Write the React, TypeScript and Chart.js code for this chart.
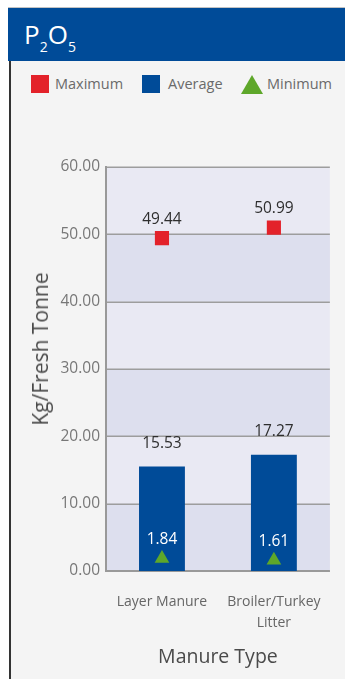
import React, { useEffect, useRef } from "react";
import { Chart, registerables } from "chart.js";

Chart.register(...registerables);

const categories: string[][] = [["Layer Manure"], ["Broiler/Turkey", "Litter"]];
const maximumValues = [49.44, 50.99];
const averageValues = [15.53, 17.27];
const minimumValues = [1.84, 1.61];
const yTickValues = [0, 10, 20, 30, 40, 50, 60];
const seriesNames = ["Maximum", "Average", "Minimum"];
const yAxisTitle = "Kg/Fresh Tonne";
const xAxisTitle = "Manure Type";

const FONT = "'Open Sans', sans-serif";
const RED = "#e3222a";
const BLUE = "#004b98";
const GREEN = "#5ea72a";

const bandPlugin = {
  id: "bands",
  beforeDatasetsDraw(chart: any) {
    const { ctx, chartArea } = chart;
    const y = chart.scales.y;
    ctx.save();
    ctx.fillStyle = "#e9e9f3";
    ctx.fillRect(chartArea.left, chartArea.top, chartArea.right - chartArea.left, chartArea.bottom - chartArea.top);
    ctx.fillStyle = "#dddfee";
    for (let i = 0; i < yTickValues.length - 1; i += 2) {
      const a = y.getPixelForValue(yTickValues[i]);
      const b = y.getPixelForValue(yTickValues[i + 1]);
      ctx.fillRect(chartArea.left, b, chartArea.right - chartArea.left, a - b);
    }
    ctx.strokeStyle = "#9d9d9d";
    ctx.lineWidth = 1.5;
    yTickValues.forEach((v) => {
      const p = Math.round(y.getPixelForValue(v)) + 0.25;
      ctx.beginPath();
      ctx.moveTo(chartArea.left, p);
      ctx.lineTo(chartArea.right, p);
      ctx.stroke();
    });
    ctx.strokeStyle = "#999999";
    ctx.lineWidth = 2;
    ctx.beginPath();
    ctx.moveTo(chartArea.left, chartArea.top - 1);
    ctx.lineTo(chartArea.left, chartArea.bottom + 1);
    ctx.stroke();
    ctx.beginPath();
    ctx.moveTo(chartArea.left, chartArea.bottom);
    ctx.lineTo(chartArea.right, chartArea.bottom);
    ctx.stroke();
    ctx.restore();
  },
};

const labelOffsets = [19, 23, 19];
const labelColors = ["#2e2e2e", "#2e2e2e", "#ffffff"];

const valueLabelPlugin = {
  id: "valueLabels",
  afterDatasetsDraw(chart: any) {
    const { ctx } = chart;
    ctx.save();
    ctx.font = `15.5px ${FONT}`;
    ctx.textAlign = "center";
    ctx.textBaseline = "middle";
    chart.data.datasets.forEach((ds: any, di: number) => {
      const meta = chart.getDatasetMeta(di);
      ctx.fillStyle = labelColors[di];
      meta.data.forEach((el: any, i: number) => {
        ctx.fillText(Number(ds.data[i]).toFixed(2), el.x, el.y - labelOffsets[di]);
      });
    });
    ctx.restore();
  },
};

function ChartCanvas() {
  const ref = useRef<HTMLCanvasElement | null>(null);
  useEffect(() => {
    if (!ref.current) return;
    const chart = new Chart(ref.current, {
      type: "bar",
      data: {
        labels: categories as any,
        datasets: [
          {
            type: "line",
            label: seriesNames[0],
            data: maximumValues,
            showLine: false,
            pointStyle: "rect",
            pointRadius: 10,
            pointHoverRadius: 10,
            pointBackgroundColor: RED,
            pointBorderWidth: 0,
            borderColor: RED,
            backgroundColor: RED,
            order: 0,
          } as any,
          {
            type: "bar",
            label: seriesNames[1],
            data: averageValues,
            backgroundColor: BLUE,
            borderWidth: 0,
            barPercentage: 0.41,
            categoryPercentage: 1,
            order: 2,
          } as any,
          {
            type: "line",
            label: seriesNames[2],
            data: minimumValues,
            showLine: false,
            pointStyle: "triangle",
            pointRadius: 8.5,
            pointHoverRadius: 8.5,
            pointBackgroundColor: GREEN,
            pointBorderWidth: 0,
            borderColor: GREEN,
            backgroundColor: GREEN,
            order: 1,
          } as any,
        ],
      },
      options: {
        responsive: false,
        animation: false,
        layout: { padding: { top: 67, right: 14, left: 0, bottom: 0 } },
        plugins: { legend: { display: false }, tooltip: { enabled: false } },
        scales: {
          x: {
            grid: { display: false, drawTicks: false },
            border: { display: false },
            ticks: {
              color: "#666666",
              font: { family: FONT, size: 14, lineHeight: 1.5 },
              padding: 21,
              maxRotation: 0,
              autoSkip: false,
            },
            title: {
              display: true,
              text: xAxisTitle,
              color: "#4a4a4a",
              font: { family: FONT, size: 19.5 },
              padding: { top: 0, bottom: 10 },
            },
            afterFit(scale: any) {
              scale.height = 108;
            },
          },
          y: {
            min: 0,
            max: 60,
            grid: { display: false, drawTicks: false },
            border: { display: false },
            afterBuildTicks(scale: any) {
              scale.ticks = yTickValues.map((v) => ({ value: v }));
            },
            ticks: {
              color: "#777777",
              font: { family: FONT, size: 15.5 },
              padding: 6,
              callback: (v: any) => Number(v).toFixed(2),
            },
            afterFit(scale: any) {
              scale.width = 96;
            },
          },
        },
      },
      plugins: [bandPlugin, valueLabelPlugin],
    });
    return () => chart.destroy();
  }, []);
  return <canvas ref={ref} width={335} height={579} style={{ display: "block" }} />;
}

function LegendMarker({ kind, color }: { kind: string; color: string }) {
  if (kind === "triangle") {
    return (
      <div
        style={{
          width: 0,
          height: 0,
          borderLeft: "11px solid transparent",
          borderRight: "11px solid transparent",
          borderBottom: `19px solid ${color}`,
        }}
      />
    );
  }
  return <div style={{ width: 18, height: 18, background: color }} />;
}

export default function App() {
  const legendItems = [
    { name: seriesNames[0], kind: "rect", color: RED, boxX: 31, textX: 55 },
    { name: seriesNames[1], kind: "rect", color: BLUE, boxX: 142, textX: 168 },
    { name: seriesNames[2], kind: "triangle", color: GREEN, boxX: 241, textX: 267 },
  ];
  return (
    <div
      style={{
        position: "absolute",
        left: 0,
        top: 0,
        width: 345,
        height: 679,
        background: "#ffffff",
        overflow: "hidden",
        fontFamily: FONT,
      }}
    >
      <div style={{ position: "absolute", left: 8, top: 7, width: 337, height: 1, background: "#c3c3c3" }} />
      <div style={{ position: "absolute", left: 8, top: 8, width: 337, height: 53, background: BLUE }} />
      <div
        style={{
          position: "absolute",
          left: 24,
          top: 21,
          color: "#ffffff",
          fontSize: 26,
          lineHeight: "26px",
          whiteSpace: "nowrap",
        }}
      >
        P<span style={{ fontSize: 14, position: "relative", top: 8 }}>2</span>O
        <span style={{ fontSize: 14, position: "relative", top: 8 }}>5</span>
      </div>
      <div
        style={{
          position: "absolute",
          left: 9,
          top: 61,
          width: 336,
          height: 618,
          background: "#f4f4f4",
          borderLeft: "2px solid #333333",
        }}
      />
      {legendItems.map((it) => (
        <React.Fragment key={it.name}>
          <div style={{ position: "absolute", left: it.boxX, top: 75 }}>
            <LegendMarker kind={it.kind} color={it.color} />
          </div>
          <div
            style={{
              position: "absolute",
              left: it.textX,
              top: 74,
              fontSize: 14.5,
              lineHeight: "20px",
              color: "#6a6a6a",
              whiteSpace: "nowrap",
            }}
          >
            {it.name}
          </div>
        </React.Fragment>
      ))}
      <div style={{ position: "absolute", left: 10, top: 100 }}>
        <ChartCanvas />
      </div>
      <div
        style={{
          position: "absolute",
          left: 40,
          top: 349,
          transform: "translate(-50%, -50%) rotate(-90deg)",
          fontSize: 21,
          lineHeight: "24px",
          color: "#4a4a4a",
          whiteSpace: "nowrap",
        }}
      >
        {yAxisTitle}
      </div>
    </div>
  );
}
